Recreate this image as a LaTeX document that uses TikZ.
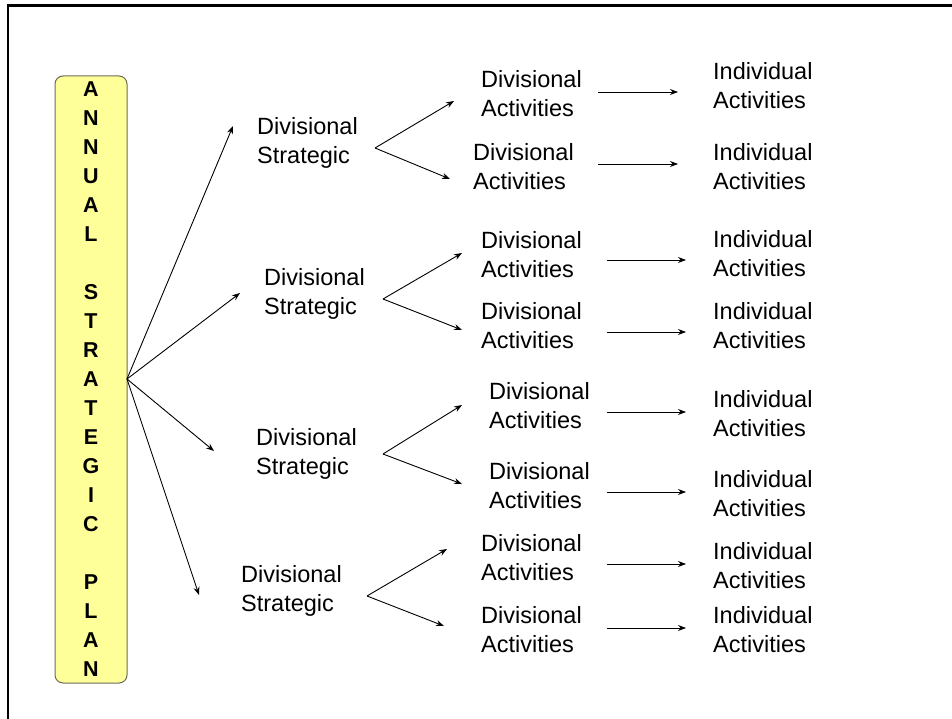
\documentclass[tikz,border=0pt]{standalone}
\usepackage{fontspec}
\setmainfont{Liberation Sans}
\usetikzlibrary{arrows.meta}
\definecolor{planfill}{HTML}{FFFF99}
\definecolor{planedge}{HTML}{6B6B5A}
\begin{document}
\begin{tikzpicture}[x=1pt,y=-1pt,
  lbl/.style={anchor=west,align=left,inner sep=0pt,font=\fontsize{23.5}{29}\selectfont},
  arr/.style={line width=0.9pt,-{Stealth[length=8pt,width=6pt]}},
  frame/.style={line width=2.2pt}]
\useasboundingbox (0,0) rectangle (952,719);
% frame
\draw[frame] (952,5.5) -- (8.3,5.5) -- (8.3,719);
% plan box
\node[draw=planedge,fill=planfill,line width=1pt,rounded corners=8pt,
  minimum width=72pt,minimum height=607pt,inner sep=0pt,align=center,
  font=\bfseries\fontsize{21.5}{29}\selectfont] (plan) at (91,379.5)
  {A\\N\\N\\U\\A\\L\\~\\S\\T\\R\\A\\T\\E\\G\\I\\C\\~\\P\\L\\A\\N};
% divisional strategic
\node[lbl] (ds1) at (257,143) {Divisional\\Strategic};
\node[lbl] (ds2) at (264,294) {Divisional\\Strategic};
\node[lbl] (ds3) at (256,454) {Divisional\\Strategic};
\node[lbl] (ds4) at (241,591) {Divisional\\Strategic};
% divisional activities
\node[lbl] (da1) at (481,94) {Divisional\\Activities};
\node[lbl] (da2) at (473,167) {Divisional\\Activities};
\node[lbl] (da3) at (481,255) {Divisional\\Activities};
\node[lbl] (da4) at (481,326) {Divisional\\Activities};
\node[lbl] (da5) at (489,406) {Divisional\\Activities};
\node[lbl] (da6) at (489,486) {Divisional\\Activities};
\node[lbl] (da7) at (481,558) {Divisional\\Activities};
\node[lbl] (da8) at (481,630) {Divisional\\Activities};
% individual activities
\node[lbl] (ia1) at (713,86) {Individual\\Activities};
\node[lbl] (ia2) at (713,167) {Individual\\Activities};
\node[lbl] (ia3) at (713,254) {Individual\\Activities};
\node[lbl] (ia4) at (713,326) {Individual\\Activities};
\node[lbl] (ia5) at (713,414) {Individual\\Activities};
\node[lbl] (ia6) at (713,494) {Individual\\Activities};
\node[lbl] (ia7) at (713,566) {Individual\\Activities};
\node[lbl] (ia8) at (713,630) {Individual\\Activities};
% fan from plan
\coordinate (o) at (127,379);
\coordinate (e1) at (233,126);
\coordinate (e2) at (240,293);
\coordinate (e3) at (214,451);
\coordinate (e4) at (199,595);
\draw[arr] (o) -- (e1);
\draw[arr] (o) -- (e2);
\draw[arr] (o) -- (e3);
\draw[arr] (o) -- (e4);
% vertices and branch ends
\coordinate (v1) at (375,148);
\coordinate (v2) at (383,299);
\coordinate (v3) at (383,454);
\coordinate (v4) at (367,596);
\coordinate (b1) at (454,101);
\coordinate (b2) at (450,179);
\coordinate (b3) at (462,253);
\coordinate (b4) at (462,330);
\coordinate (b5) at (462,405);
\coordinate (b6) at (462,484);
\coordinate (b7) at (447,549);
\coordinate (b8) at (444,626);
\draw[arr] (v1) -- (b1);
\draw[arr] (v1) -- (b2);
\draw[arr] (v2) -- (b3);
\draw[arr] (v2) -- (b4);
\draw[arr] (v3) -- (b5);
\draw[arr] (v3) -- (b6);
\draw[arr] (v4) -- (b7);
\draw[arr] (v4) -- (b8);
% horizontal arrows
\coordinate (h1s) at (598,92);  \coordinate (h1e) at (678,92);
\coordinate (h2s) at (598,164); \coordinate (h2e) at (678,164);
\coordinate (h3s) at (607,260); \coordinate (h3e) at (686,260);
\coordinate (h4s) at (607,332); \coordinate (h4e) at (686,332);
\coordinate (h5s) at (607,412); \coordinate (h5e) at (686,412);
\coordinate (h6s) at (607,492); \coordinate (h6e) at (686,492);
\coordinate (h7s) at (607,564); \coordinate (h7e) at (686,564);
\coordinate (h8s) at (607,628); \coordinate (h8e) at (686,628);
\foreach \i in {1,...,8} {\draw[arr] (h\i s) -- (h\i e);}
\end{tikzpicture}
\end{document}
